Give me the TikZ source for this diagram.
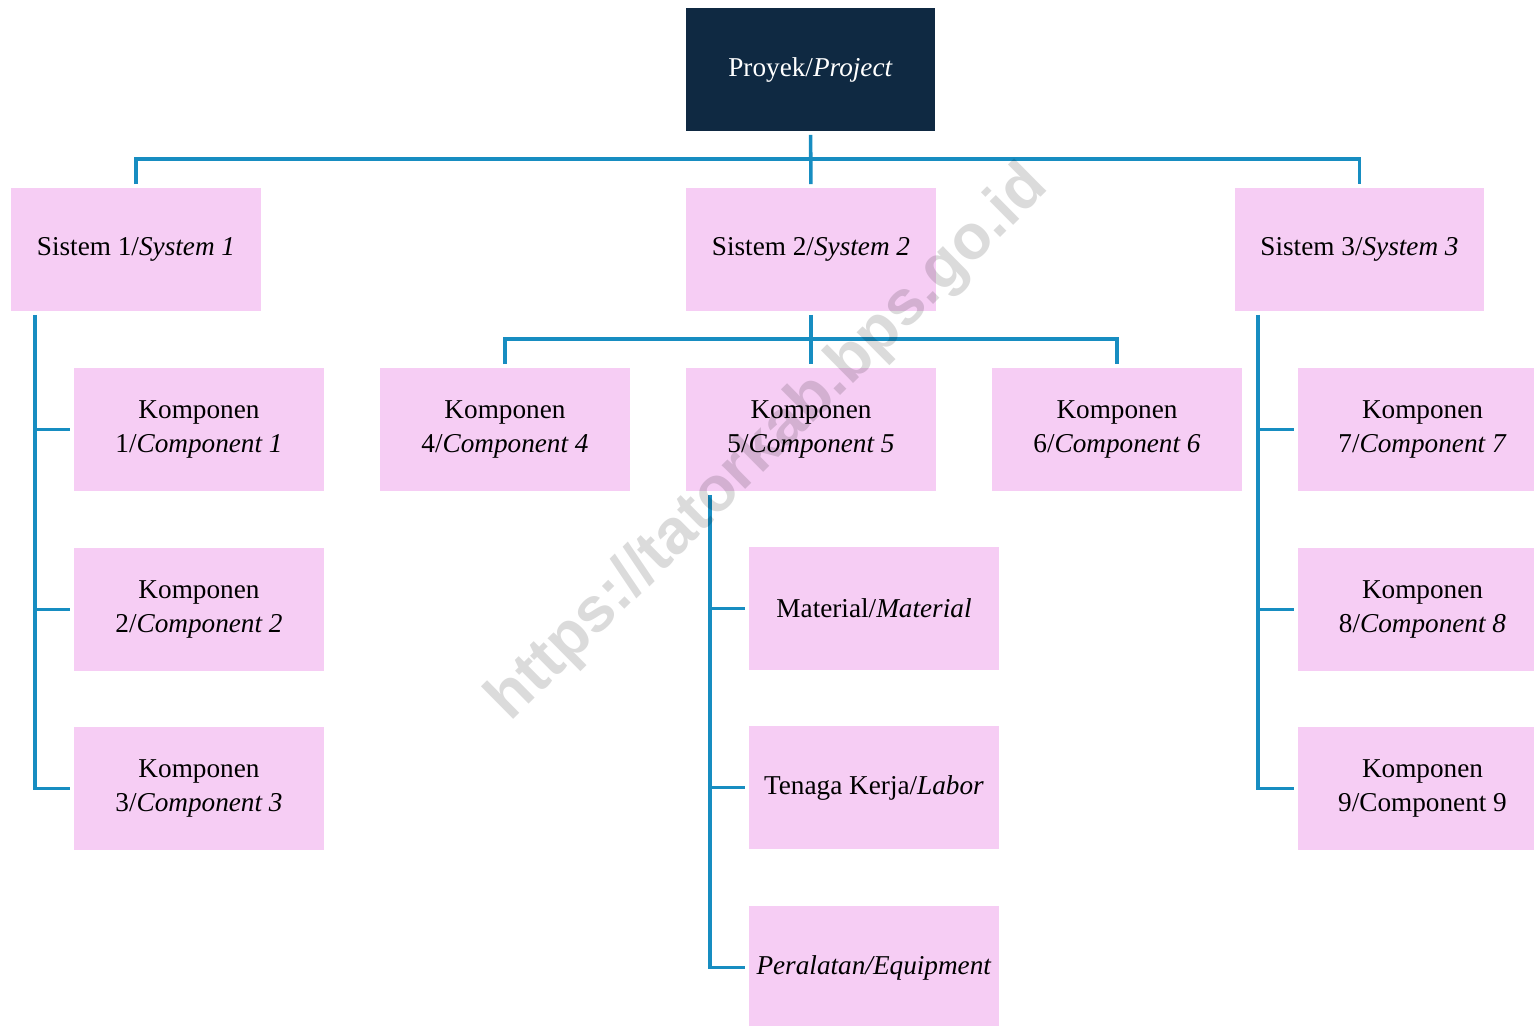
\documentclass[tikz,border=0pt]{standalone}
\usepackage{fontspec}
\setmainfont{Liberation Serif}
\newfontfamily\wmfont{Liberation Sans}
\usetikzlibrary{positioning}

\definecolor{boxpink}{HTML}{F6CDF4}
\definecolor{navy}{HTML}{0F2942}
\definecolor{linkblue}{HTML}{178DC1}

\begin{document}
\begin{tikzpicture}[
      x=0.02cm, y=-0.02cm,
      mybox/.style={
         rectangle,
         fill=boxpink,
         text=black,
         align=center,
         inner sep=0pt,
         outer sep=2.2pt,
         minimum width=5cm,
         minimum height=2.46cm,
         font=\fontsize{15.5}{19.5}\selectfont},
      mytop/.style={
         mybox,
         fill=navy,
         text=white},
      mylink/.style={
         draw=linkblue,
         line width=2pt}
      ]
      \useasboundingbox (0,0) rectangle (1534,1026);
      \node[mytop] (proj) at (810.5,69.5) {Proyek/\textit{Project}};
      \node[mybox] (sys1) at (136,249.5) {Sistem 1/\textit{System 1}};
      \node[mybox] (sys2) at (811,249.5) {Sistem 2/\textit{System 2}};
      \node[mybox] (sys3) at (1359.5,249.5) {Sistem 3/\textit{System 3}};
      \node[mybox] (k1) at (199,429.5) {Komponen\\1/\textit{Component 1}};
      \node[mybox] (k2) at (199,609.5) {Komponen\\2/\textit{Component 2}};
      \node[mybox] (k3) at (199,788.5) {Komponen\\3/\textit{Component 3}};
      \node[mybox] (k4) at (505,429.5) {Komponen\\4/\textit{Component 4}};
      \node[mybox] (k5) at (811,429.5) {Komponen\\5/\textit{Component 5}};
      \node[mybox] (k6) at (1117,429.5) {Komponen\\6/\textit{Component 6}};
      \node[mybox] (mat) at (874,608.5) {Material/\textit{Material}};
      \node[mybox] (lab) at (874,787.5) {Tenaga Kerja/\textit{Labor}};
      \node[mybox] (equ) at (874,967.5) {\textit{Peralatan/Equipment}};
      \node[mybox] (k7) at (1422.5,429.5) {Komponen\\7/\textit{Component 7}};
      \node[mybox] (k8) at (1422.5,609.5) {Komponen\\8/\textit{Component 8}};
      \node[mybox] (k9) at (1422.5,788.5) {Komponen\\9/Component 9};
      % bus lines and side rails
      \coordinate (bus1) at (811,159);
      \coordinate (bus2) at (811,339);
      \coordinate (r1) at (35,0);
      \coordinate (r2) at (710,0);
      \coordinate (r3) at (1258,0);
      \draw[mylink] (proj) -- (sys2);
      \draw[mylink] (sys1.north) |- (bus1) -| (sys3.north);
      \draw[mylink] (sys2) -- (k5);
      \draw[mylink] (k4.north) |- (bus2) -| (k6.north);
    \foreach \p/\r/\a/\b/\c in {
      sys1/r1/k1/k2/k3,
      k5/r2/mat/lab/equ,
      sys3/r3/k7/k8/k9}{
       \draw[mylink] (\p.south -| \r) |- (\c.west);
       \draw[mylink] (\a.west -| \r) -- (\a.west);
       \draw[mylink] (\b.west -| \r) -- (\b.west);
    }
      \node[rotate=44.7, text=black, opacity=0.14,
         font=\wmfont\bfseries\fontsize{36}{40}\selectfont] (wm) at (769,444) {https://tatorkab.bps.go.id};
\end{tikzpicture}
\end{document}
